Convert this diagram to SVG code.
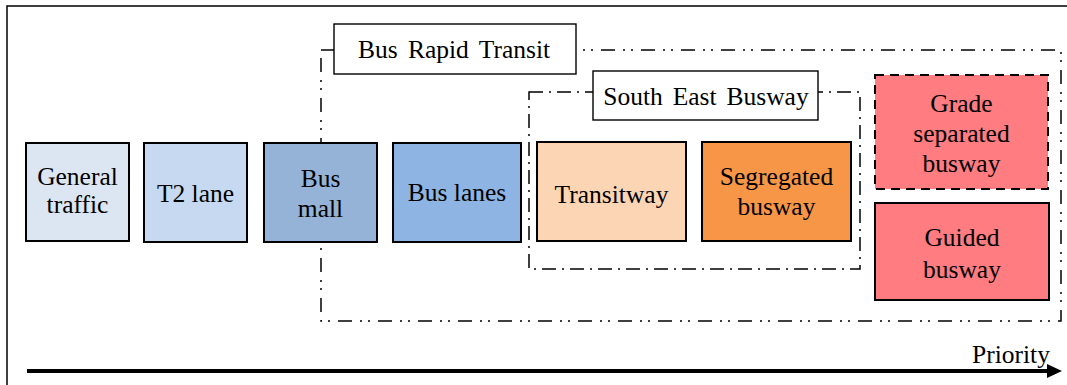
<svg xmlns="http://www.w3.org/2000/svg" width="1067" height="385" viewBox="0 0 1067 385">
  <defs>
    <style>
      .node { stroke: #000; stroke-width: 2; }
      .lbl { font-family: "Liberation Serif", "Times New Roman", serif; font-size: 25.5px; fill: #000; text-anchor: middle; }
      .tag { fill: #fff; stroke: #000; stroke-width: 1.4; }
      .brt { fill: none; stroke: #000; stroke-width: 1.5; stroke-dasharray: 14 8 2 6 2 8; }
      .seb { fill: none; stroke: #000; stroke-width: 1.5; stroke-dasharray: 14 6 2 6; }
    </style>
  </defs>
  <rect width="1067" height="385" fill="#fff"/>

  <!-- outer frame -->
  <path d="M7,385 V6 H1067" fill="none" stroke="#000" stroke-width="1.5"/>

  <!-- grouping boundaries -->
  <g id="group-brt">
    <rect class="brt" x="321" y="50" width="740" height="271"/>
    <rect class="tag" x="334" y="24" width="242" height="50"/>
    <text class="lbl" x="454" y="58" font-size="24" word-spacing="4">Bus Rapid Transit</text>
  </g>
  <g id="group-seb">
    <rect class="seb" x="529" y="92" width="331" height="177"/>
    <rect class="tag" x="593" y="71" width="225" height="49"/>
    <text class="lbl" x="706" y="105" font-size="24" word-spacing="3.5">South East Busway</text>
  </g>

  <!-- nodes -->
  <g id="general-traffic">
    <rect class="node" x="26" y="143" width="103" height="98" fill="#DCE6F2"/>
    <text class="lbl" x="77.5" y="185">General</text>
    <text class="lbl" x="77.5" y="213">traffic</text>
  </g>
  <g id="t2-lane">
    <rect class="node" x="144" y="143" width="103" height="99" fill="#C6D9F1"/>
    <text class="lbl" x="195.5" y="202">T2 lane</text>
  </g>
  <g id="bus-mall">
    <rect class="node" x="264" y="143" width="113" height="99" fill="#95B3D7"/>
    <text class="lbl" x="320.5" y="187">Bus</text>
    <text class="lbl" x="320.5" y="217">mall</text>
  </g>
  <g id="bus-lanes">
    <rect class="node" x="393" y="143" width="128" height="99" fill="#8DB4E2"/>
    <text class="lbl" x="457" y="201">Bus lanes</text>
  </g>
  <g id="transitway">
    <rect class="node" x="537" y="142" width="149" height="99" fill="#FCD5B5"/>
    <text class="lbl" x="611.5" y="203">Transitway</text>
  </g>
  <g id="segregated-busway">
    <rect class="node" x="702" y="142" width="149" height="99" fill="#F79646"/>
    <text class="lbl" x="776.5" y="185">Segregated</text>
    <text class="lbl" x="776.5" y="215">busway</text>
  </g>
  <g id="grade-separated-busway">
    <rect class="node" x="875" y="75" width="173" height="114" fill="#FF7C80" stroke-width="2.5" stroke-dasharray="9 6"/>
    <text class="lbl" x="961.5" y="112">Grade</text>
    <text class="lbl" x="961.5" y="142">separated</text>
    <text class="lbl" x="961.5" y="172">busway</text>
  </g>
  <g id="guided-busway">
    <rect class="node" x="875" y="203" width="174" height="97" fill="#FF7C80"/>
    <text class="lbl" x="962" y="246">Guided</text>
    <text class="lbl" x="962" y="278">busway</text>
  </g>

  <!-- priority axis -->
  <g id="connectors">
    <line x1="27" y1="371" x2="1049" y2="371" stroke="#000" stroke-width="4"/>
    <polygon points="1047,364 1062,371 1047,378" fill="#000"/>
    <text class="lbl" x="1011" y="363" font-size="24">Priority</text>
  </g>
</svg>
